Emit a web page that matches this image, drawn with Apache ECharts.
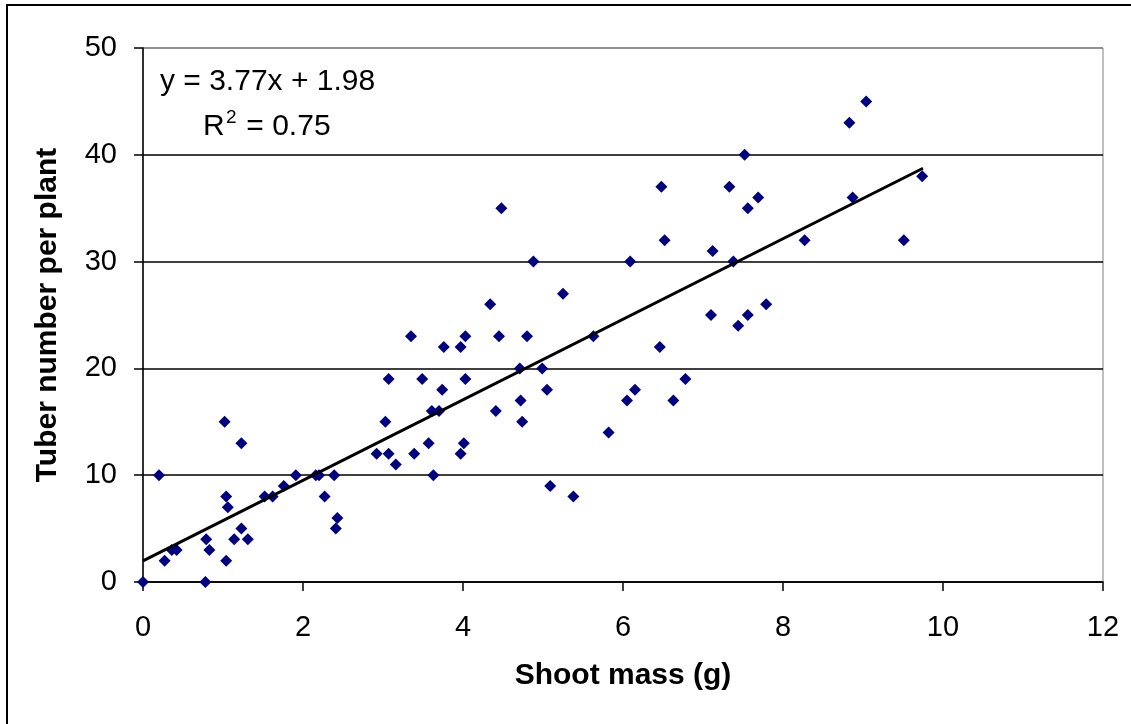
<!DOCTYPE html>
<html>
<head>
<meta charset="utf-8">
<title>Tuber number vs shoot mass</title>
<script src="https://cdn.jsdelivr.net/npm/echarts@6/dist/echarts.min.js"></script>
<style>
    html, body {margin: 0; padding: 0; background: #fff;}
    #myChart {width: 1131px; height: 724px;}
</style>
</head>
<body>
<div id="myChart"></div>
<script>
/*----------data--------*/
var shootMass = [0, 0.2, 0.27, 0.36, 0.42, 0.78, 0.79, 0.83, 1.02, 1.04,
    1.04, 1.06, 1.14, 1.23, 1.23, 1.31, 1.52, 1.62, 1.76, 1.91,
    2.16, 2.2, 2.27, 2.39, 2.41, 2.43, 2.92, 3.03, 3.07, 3.07,
    3.16, 3.35, 3.39, 3.49, 3.57, 3.61, 3.63, 3.7, 3.74, 3.76,
    3.97, 3.97, 4.01, 4.03, 4.03, 4.34, 4.41, 4.45, 4.48, 4.71,
    4.72, 4.74, 4.8, 4.88, 4.99, 5.05, 5.09, 5.25, 5.38, 5.63,
    5.82, 6.05, 6.09, 6.15, 6.46, 6.48, 6.52, 6.63, 6.78, 7.1,
    7.12, 7.33, 7.38, 7.44, 7.52, 7.56, 7.56, 7.69, 7.79, 8.27,
    8.83, 8.87, 9.04, 9.51, 9.74];
var tuberNumber = [0, 10, 2, 3, 3, 0, 4, 3, 15, 2,
    8, 7, 4, 13, 5, 4, 8, 8, 9, 10,
    10, 10, 8, 10, 5, 6, 12, 15, 19, 12,
    11, 23, 12, 19, 13, 16, 10, 16, 18, 22,
    22, 12, 13, 23, 19, 26, 16, 23, 35, 20,
    17, 15, 23, 30, 20, 18, 9, 27, 8, 23,
    14, 17, 30, 18, 22, 37, 32, 17, 19, 25,
    31, 37, 30, 24, 40, 35, 25, 36, 26, 32,
    43, 36, 45, 32, 38];
// linear trendline ends (y = 3.77x + 1.98)
var trendX = [0, 9.75];
var trendY = [1.98, 38.74];
var xTicks = [0, 2, 4, 6, 8, 10, 12];
var yTicks = [0, 10, 20, 30, 40, 50];

designChart();

function designChart() {
    var myChart = echarts.init(document.getElementById('myChart'));
    var font = 'Liberation Sans, Arial, sans-serif';

    var points = [];
    for (var i = 0; i < shootMass.length; i++) {
        points.push([shootMass[i], tuberNumber[i]]);
    }
    var trend = [];
    for (var j = 0; j < trendX.length; j++) {
        trend.push([trendX[j], trendY[j]]);
    }

    myChart.setOption({
        animation: false,
        backgroundColor: '#fff',
        grid: {
            left: 143,
            top: 48,
            right: 28,
            bottom: 142,
            show: true,
            borderColor: '#808080',
            borderWidth: 1
        },
        xAxis: {
            type: 'value',
            min: xTicks[0],
            max: xTicks[xTicks.length - 1],
            interval: xTicks[1] - xTicks[0],
            name: 'Shoot mass (g)',
            nameLocation: 'middle',
            nameGap: 79,
            nameTextStyle: {fontFamily: font, fontSize: 30, fontWeight: 'bold', color: '#000'},
            axisLine: {show: true, onZero: false, lineStyle: {color: '#000', width: 1.5}},
            axisTick: {show: true, inside: false, length: 9, lineStyle: {color: '#000', width: 1.5}},
            axisLabel: {fontFamily: font, fontSize: 29, color: '#000', margin: 31},
            splitLine: {show: false}
        },
        yAxis: {
            type: 'value',
            min: yTicks[0],
            max: yTicks[yTicks.length - 1],
            interval: yTicks[1] - yTicks[0],
            name: 'Tuber number per plant',
            nameLocation: 'middle',
            nameGap: 80,
            nameRotate: 90,
            nameTextStyle: {fontFamily: font, fontSize: 30, fontWeight: 'bold', color: '#000'},
            axisLine: {show: true, onZero: false, lineStyle: {color: '#000', width: 1.5}},
            axisTick: {show: true, inside: false, length: 9, lineStyle: {color: '#000', width: 1.5}},
            axisLabel: {fontFamily: font, fontSize: 29, color: '#000', margin: 26},
            splitLine: {
                show: true,
                lineStyle: {color: ['#000', '#000', '#000', '#000', '#000', '#808080'], width: 1.5}
            }
        },
        graphic: [
            {
                // outer frame, only top and left edges show
                type: 'rect',
                silent: true,
                shape: {x: 7, y: 5, width: 1300, height: 900},
                style: {fill: 'none', stroke: '#000', lineWidth: 2}
            },
            {
                type: 'text',
                x: 160,
                y: 82,
                style: {text: 'y = 3.77x + 1.98', font: '30px ' + font, fill: '#000', verticalAlign: 'middle'}
            },
            {
                type: 'text',
                x: 203,
                y: 127,
                style: {text: 'R', font: '30px ' + font, fill: '#000', verticalAlign: 'middle'}
            },
            {
                type: 'text',
                x: 226,
                y: 108,
                style: {text: '2', font: '19px ' + font, fill: '#000', verticalAlign: 'top'}
            },
            {
                type: 'text',
                x: 238,
                y: 127,
                style: {text: ' = 0.75', font: '30px ' + font, fill: '#000', verticalAlign: 'middle'}
            }
        ],
        series: [
            {
                name: 'data',
                type: 'scatter',
                symbol: 'diamond',
                symbolSize: 12,
                itemStyle: {color: '#000080', opacity: 1},
                data: points,
                z: 3
            },
            {
                name: 'trend',
                type: 'line',
                showSymbol: false,
                symbol: 'none',
                lineStyle: {color: '#000', width: 3},
                data: trend,
                z: 4
            }
        ]
    });
}
</script>
</body>
</html>
